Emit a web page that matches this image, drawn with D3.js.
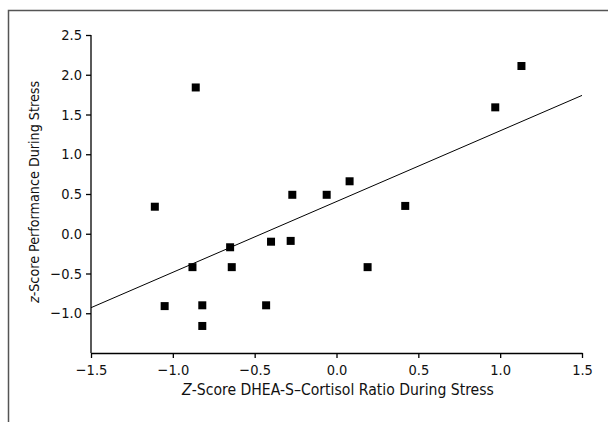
<!DOCTYPE html>
<html>
<head>
<meta charset="utf-8">
<script src="https://cdn.jsdelivr.net/npm/d3@7"></script>
<style>
  body { margin: 0; background: #fff; }
  text { font-family: "Liberation Sans Narrow", "DejaVu Sans Condensed", sans-serif; }
</style>
</head>
<body>
<div id="chart"></div>
<script>
// dhea-s/cortisol ratio vs performance, z-scores
var ratioZ = [-1.11, -0.86, -0.88, -1.05, -0.82, -0.82, -0.65, -0.64, -0.40, -0.28, -0.43, 0.19, -0.27, -0.06, 0.08, 0.42, 0.97, 1.13];
var perfZ  = [0.34, 1.84, -0.42, -0.91, -0.90, -1.16, -0.17, -0.42, -0.10, -0.09, -0.90, -0.42, 0.49, 0.49, 0.66, 0.35, 1.59, 2.11];
var xTicks = [-1.5, -1.0, -0.5, 0.0, 0.5, 1.0, 1.5];
var yTicks = [-1.0, -0.5, 0.0, 0.5, 1.0, 1.5, 2.0, 2.5];
// fitted line ends
var fitX = [-1.5, 1.5];
var fitY = [-0.93, 1.74];

var svg = d3.select('#chart')
  .append('svg')
    .attr('width', 608)
    .attr('height', 422);

// outer frame, runs off the right and bottom
svg.append('rect')
  .attr('x', 8.5)
  .attr('y', 10.5)
  .attr('width', 620)
  .attr('height', 430)
  .style('fill', 'none')
  .style('stroke', '#555')
  .style('stroke-width', 1.5);

var x = d3.scaleLinear().domain([-1.5, 1.5]).range([91, 582]);
var y = d3.scaleLinear().domain([-1.5, 2.5]).range([353, 35]);

var fmt = d3.format('.1f');

var xAxis = svg.append('g')
  .attr('transform', 'translate(0,353)')
  .call(d3.axisBottom(x).tickValues(xTicks).tickFormat(fmt).tickSize(5).tickSizeOuter(0));

var yAxis = svg.append('g')
  .attr('transform', 'translate(91,0)')
  .call(d3.axisLeft(y).tickValues(yTicks).tickFormat(fmt).tickSize(5).tickSizeOuter(0));

// y axis line has to reach the x axis
yAxis.select('.domain').attr('d', 'M0,' + y(2.5) + 'V' + y(-1.5));

svg.selectAll('.tick text')
  .style('font-size', '14.5px')
  .style('fill', '#111');
xAxis.selectAll('.tick text').attr('y', 12);
yAxis.selectAll('.tick text').attr('x', -9);
svg.selectAll('.domain, .tick line').style('stroke', '#000').style('stroke-width', 1.3);

svg.append('line')
  .attr('x1', x(fitX[0]))
  .attr('y1', y(fitY[0]))
  .attr('x2', x(fitX[1]))
  .attr('y2', y(fitY[1]))
  .style('stroke', '#000')
  .style('stroke-width', 1);

svg.selectAll('rect.pt')
  .data(ratioZ)
  .enter().append('rect')
    .attr('class', 'pt')
    .attr('x', function(d) { return x(d) - 4; })
    .attr('y', function(d, i) { return y(perfZ[i]) - 4; })
    .attr('width', 8)
    .attr('height', 8)
    .style('fill', '#000');

var xt = svg.append('text')
  .attr('x', 338)
  .attr('y', 395)
  .attr('text-anchor', 'middle')
  .style('font-size', '15.6px')
  .style('fill', '#111');
xt.append('tspan').style('font-style', 'italic').text('Z');
xt.append('tspan').text('-Score DHEA-S\u2013Cortisol Ratio During Stress');

var yt = svg.append('text')
  .attr('transform', 'translate(39,192) rotate(-90)')
  .attr('text-anchor', 'middle')
  .style('font-size', '14.2px')
  .style('fill', '#111');
yt.append('tspan').style('font-style', 'italic').text('z');
yt.append('tspan').text('-Score Performance During Stress');
</script>
</body>
</html>
